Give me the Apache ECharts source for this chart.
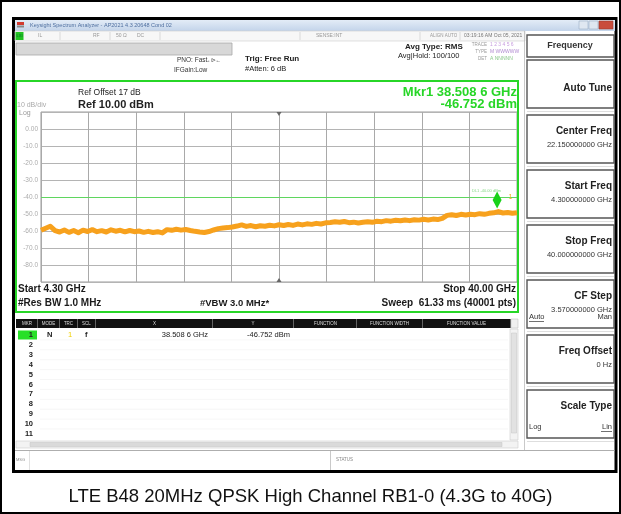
<!DOCTYPE html>
<html>
<head>
<meta charset="utf-8">
<script src="https://cdn.jsdelivr.net/npm/echarts@6/dist/echarts.min.js"></script>
<style>
  html, body { margin: 0; padding: 0; background: #fff; }
  #c { width: 621px; height: 514px; }
</style>
</head>
<body>
<div id="c"></div>
<script>
// Sweep settings
const sweepStartGHz = 4.3;
const sweepStopGHz = 40.0;
const centerFreqGHz = 22.15;

// Trace 1 (RMS average), dBm, evenly spaced across the sweep
const traceDbm = [
  -59.6, -58.4, -57.2, -59.8, -60.6, -59.4, -60.8, -59.7, -61.0, -59.5,
  -60.3, -59.2, -60.4, -59.8, -60.6, -59.3, -60.1, -59.6, -60.5, -59.7,
  -60.4, -60.0, -60.8, -60.2, -60.9, -60.4, -61.1, -59.2, -59.6, -59.0,
  -59.5, -59.1, -59.7, -60.2, -60.6, -60.9, -60.3, -59.4, -58.6, -58.2,
  -58.0, -57.6, -57.1, -56.4, -57.3, -56.8, -57.5, -56.9, -57.2, -56.6,
  -57.0, -56.3, -56.8, -56.2, -56.7, -55.9, -56.4, -55.8, -56.1, -55.5,
  -55.9, -55.2, -55.0, -54.6, -54.9, -54.4, -55.1, -54.8, -55.3, -54.9,
  -54.6, -54.9, -54.3, -54.5, -53.9, -54.2, -53.7, -54.0, -53.5, -53.9,
  -53.4, -53.6, -53.1, -53.5, -53.0, -53.3, -52.6, -50.8, -50.4, -50.9,
  -50.2, -50.6, -50.1, -50.4, -49.8, -50.2, -49.6, -49.3, -48.6, -49.4,
  -49.1, -49.6, -49.3
];

// Amplitude scale
const refLevelDbm = 10;
const bottomLevelDbm = -90;
const dbPerDiv = 10;
const displayLineDbm = -40;

// Marker 1
const markerFreqGHz = 38.5086;
const markerDbm = -46.752;

// Marker table rows
const tableRows = ['1','2','3','4','5','6','7','8','9','10','11'];

// Softkey menu
const softkeys = [
  { label: 'Auto Tune', value: '' },
  { label: 'Center Freq', value: '22.150000000 GHz' },
  { label: 'Start Freq', value: '4.300000000 GHz' },
  { label: 'Stop Freq', value: '40.000000000 GHz' },
  { label: 'CF Step', value: '3.570000000 GHz' },
  { label: 'Freq Offset', value: '0 Hz' },
  { label: 'Scale Type', value: '' }
];

const FONT = '"Liberation Sans", Arial, sans-serif';
const GREEN = '#27d627';

function T(x, y, text, size, o) {
  o = o || {};
  return {
    type: 'text', x: x, y: y, silent: true, z: o.z || 5,
    style: {
      text: text, fontSize: size, fontFamily: FONT,
      fontWeight: o.bold ? 'bold' : 'normal',
      fill: o.color || '#1a1a1a',
      align: o.align || 'left', verticalAlign: 'middle'
    }
  };
}
function R(x, y, w, h, fill, stroke, lw, z) {
  return {
    type: 'rect', silent: true, z: z || 1,
    shape: { x: x, y: y, width: w, height: h },
    style: { fill: fill || 'none', stroke: stroke || 'none', lineWidth: lw || 0 }
  };
}
function L(x1, y1, x2, y2, color, lw, z) {
  return {
    type: 'line', silent: true, z: z || 2,
    shape: { x1: x1, y1: y1, x2: x2, y2: y2 },
    style: { stroke: color, lineWidth: lw || 1 }
  };
}

const g = [];
// outer page frame and instrument window frame
g.push(R(1, 1, 619, 512, 'none', '#000', 2));
g.push(R(13.5, 18.5, 602.5, 453, 'none', '#000', 3));

// title bar
g.push({ type: 'rect', silent: true, z: 1, shape: { x: 15, y: 20, width: 600, height: 11 },
  style: { fill: new echarts.graphic.LinearGradient(0, 0, 0, 1, [
    { offset: 0, color: '#e3ecf7' }, { offset: 1, color: '#c3d4ea' }]) } });
g.push(R(17, 22, 7, 3, '#d23b30'));
g.push(R(17, 25.5, 7, 2, '#888'));
g.push(T(30, 25.5, 'Keysight Spectrum Analyzer - AP2021 4.3 20648 Cond 02', 5.5, { color: '#4f6f9f' }));
g.push(R(579, 21, 9, 8, '#dfe7f1', '#9aaec8', 0.6));
g.push(R(589, 21, 9, 8, '#dfe7f1', '#9aaec8', 0.6));
g.push(R(599, 21, 14, 8, '#c94c3c', '#9a3a2e', 0.6));

// instrument status row
g.push(R(15, 31, 510, 10, '#f7f7f7', '#cfcfcf', 0.6));
g.push(R(15.5, 32, 8, 8, '#22c322'));
g.push(T(16.5, 36, 'LXI', 4, { color: '#063' }));
[60, 110, 160, 300, 420, 460].forEach(function (x) { g.push(L(x, 32, x, 40, '#c8c8c8', 0.6)); });
g.push(T(38, 36, 'IL', 5, { color: '#999' }));
g.push(T(93, 36, 'RF', 5, { color: '#999' }));
g.push(T(116, 36, '50 Ω', 5, { color: '#999' }));
g.push(T(137, 36, 'DC', 5, { color: '#999' }));
g.push(T(316, 36, 'SENSE:INT', 5, { color: '#999' }));
g.push(T(430, 36, 'ALIGN AUTO', 4.5, { color: '#999' }));
g.push(T(464, 36, '03:19:16 AM Oct 05, 2021', 5, { color: '#777' }));

// entry field
g.push(R(16, 43, 216, 12, '#d8d8d8', '#a8a8a8', 0.8));

// acquisition settings
g.push(T(177, 60, 'PNO: Fast', 6.5, { color: '#333' }));
g.push(T(205, 60, '→⊳←', 5.5, { color: '#333' }));
g.push(T(174, 70, 'IFGain:Low', 6.5, { color: '#333' }));
g.push(T(245, 59, 'Trig: Free Run', 8, { bold: true, color: '#222' }));
g.push(T(245, 69, '#Atten: 6 dB', 7.5, { color: '#222' }));
g.push(T(405, 47, 'Avg Type: RMS', 8, { bold: true, color: '#222' }));
g.push(T(398, 56, 'Avg|Hold: 100/100', 7.5, { color: '#222' }));
g.push(T(487, 45, 'TRACE', 4.5, { color: '#999', align: 'right' }));
g.push(T(490, 45, '1 2 3 4 5 6', 5, { color: '#c9a0e0' }));
g.push(T(487, 52, 'TYPE', 4.5, { color: '#999', align: 'right' }));
g.push(T(490, 52, 'M WWWWW', 5, { color: '#b08ad0' }));
g.push(T(487, 59, 'DET', 4.5, { color: '#999', align: 'right' }));
g.push(T(490, 59, 'A NNNNN', 5, { color: '#8cc88c' }));

// display frame
g.push(R(16, 81, 502, 231, 'none', GREEN, 2, 3));
g.push(T(78, 93, 'Ref Offset 17 dB', 8.5, { color: '#222' }));
g.push(T(78, 105, 'Ref 10.00 dBm', 11, { bold: true, color: '#222' }));
g.push(T(17, 105, '10 dB/div', 7, { color: '#aaa' }));
g.push(T(19, 113, 'Log', 7, { color: '#999' }));
g.push(T(517, 92, 'Mkr1 38.508 6 GHz', 13, { bold: true, color: GREEN, align: 'right' }));
g.push(T(517, 104, '-46.752 dBm', 13, { bold: true, color: GREEN, align: 'right' }));
g.push(T(18, 289, 'Start 4.30 GHz', 10, { bold: true }));
g.push(T(18, 303, '#Res BW 1.0 MHz', 10, { bold: true }));
g.push(T(200, 303, '#VBW 3.0 MHz*', 9.5, { bold: true }));
g.push(T(516, 289, 'Stop 40.00 GHz', 10, { bold: true, align: 'right' }));
g.push(T(516, 303, 'Sweep  61.33 ms (40001 pts)', 10, { bold: true, align: 'right' }));
g.push(T(472, 191, 'DL1 -40.00 dBm', 4, { color: '#8ad88a' }));

// marker table
const hdr = [
  ['MKR', 17, 37], ['MODE', 38, 59], ['TRC', 60, 77], ['SCL', 78, 95],
  ['X', 97, 212], ['Y', 213, 293], ['FUNCTION', 295, 356],
  ['FUNCTION WIDTH', 357, 422], ['FUNCTION VALUE', 423, 510]
];
g.push(R(16, 319, 495, 9, '#111'));
hdr.forEach(function (h) {
  g.push(L(h[2] + 0.5, 319, h[2] + 0.5, 328, '#777', 0.8, 3));
  g.push(T((h[1] + h[2]) / 2, 323.5, h[0], 4.5, { color: '#ddd', align: 'center' }));
});
tableRows.forEach(function (r, i) {
  const y = 335 + i * 9.9;
  if (i > 0) g.push(L(40, y - 5, 508, y - 5, '#f0f0f0', 0.6));
  g.push(T(33, y, r, 7.5, { bold: true, color: '#222', align: 'right' }));
});
g.push(R(18, 330.5, 19, 9, '#28e028', null, 0, 2));
g.push(T(47, 335, 'N', 7.5, { bold: true }));
g.push(T(68, 335, '1', 7.5, { color: '#f0d000' }));
g.push(T(85, 335, 'f', 7.5, { bold: true }));
g.push(T(208, 335, '38.508 6 GHz', 7.5, { align: 'right' }));
g.push(T(290, 335, '-46.752 dBm', 7.5, { align: 'right' }));
// scrollbars
g.push(R(511, 319, 7, 9, '#f0f0f0', '#bbb', 0.5));
g.push(R(510, 329, 8, 111, '#f3f3f3', '#ccc', 0.6));
g.push(R(511.5, 333, 5, 100, '#e2e2e2', '#c4c4c4', 0.5));
g.push(R(16, 441, 502, 7, '#f3f3f3', '#ccc', 0.6));
g.push(R(30, 442.5, 472, 4, '#dadada', '#c4c4c4', 0.5));
// message/status bar
g.push(L(15, 450.5, 615, 450.5, '#999', 0.8));
g.push(L(330.5, 451, 330.5, 470, '#bbb', 0.8));
g.push(L(29.5, 451, 29.5, 470, '#ccc', 0.6));
g.push(T(16, 460, 'MSG', 4, { color: '#888' }));
g.push(T(336, 460, 'STATUS', 4.5, { color: '#888' }));

// softkey panel
g.push(L(524.5, 31, 524.5, 450, '#bbb', 0.8));
g.push(R(527, 35, 87, 22, '#fff', '#555', 1.4));
g.push(T(570, 46, 'Frequency', 9, { bold: true, color: '#333', align: 'center' }));
softkeys.forEach(function (k, i) {
  const top = 60 + i * 55;
  g.push(R(527, top, 87, 48, '#fff', '#555', 1.4));
  g.push(L(527, top + 51.5, 614, top + 51.5, '#d6d6d6', 0.8));
  if (i === 0) {
    g.push(T(612, top + 28, k.label, 10, { bold: true, color: '#222', align: 'right' }));
  } else {
    g.push(T(612, top + 16, k.label, 10, { bold: true, color: '#222', align: 'right' }));
    if (k.value) g.push(T(612, top + 30, k.value, 7.5, { color: '#333', align: 'right' }));
  }
});
g.push(T(529, 317, 'Auto', 7.5, { color: '#333' }));
g.push(L(529, 321.5, 544, 321.5, '#333', 0.7));
g.push(T(612, 317, 'Man', 7.5, { color: '#333', align: 'right' }));
g.push(T(529, 427, 'Log', 7.5, { color: '#333' }));
g.push(T(612, 427, 'Lin', 7.5, { color: '#333', align: 'right' }));
g.push(L(601, 431.5, 612, 431.5, '#333', 0.7));

// caption
g.push(T(310.5, 497, 'LTE B48 20MHz QPSK High Channel RB1-0 (4.3G to 40G)', 18.5, { color: '#111', align: 'center' }));

// trace samples spread evenly over the sweep span
const step = (sweepStopGHz - sweepStartGHz) / (traceDbm.length - 1);
const traceData = traceDbm.map(function (v, i) { return [sweepStartGHz + i * step, v]; });

const chart = echarts.init(document.getElementById('c'), null, { renderer: 'canvas' });
chart.setOption({
  backgroundColor: '#fff',
  animation: false,
  graphic: { elements: g },
  grid: { left: 41, top: 112, width: 476, height: 170, show: true, borderColor: '#9a9a9a', borderWidth: 1, backgroundColor: '#fff' },
  xAxis: [
    { type: 'value', min: sweepStartGHz, max: sweepStopGHz,
      axisLine: { show: false }, axisTick: { show: false }, axisLabel: { show: false }, splitLine: { show: false } },
    { type: 'value', min: 0, max: 10, interval: 1, position: 'bottom',
      axisLine: { show: false }, axisTick: { show: false }, axisLabel: { show: false },
      splitLine: { show: true, lineStyle: { color: '#a9a9a9', width: 1 } } }
  ],
  yAxis: {
    type: 'value', min: bottomLevelDbm, max: refLevelDbm, interval: dbPerDiv,
    axisLine: { show: false }, axisTick: { show: false },
    axisLabel: {
      margin: 3, color: '#acacac', fontSize: 6.5, fontFamily: FONT,
      formatter: function (v) {
        if (v === refLevelDbm || v === bottomLevelDbm) return '';
        return v === 0 ? '0.00' : v.toFixed(1);
      }
    },
    splitLine: { show: true, lineStyle: { color: '#b4b4b4', width: 1 } }
  },
  series: [{
    type: 'line', xAxisIndex: 0, data: traceData,
    showSymbol: false, silent: true,
    lineStyle: { color: '#f7a11d', width: 5, join: 'round' },
    markLine: {
      silent: true, symbol: 'none', label: { show: false },
      lineStyle: { color: '#5fd65f', width: 1, type: 'solid' },
      data: [{ yAxis: displayLineDbm }]
    },
    markPoint: {
      silent: true,
      data: [
        { coord: [markerFreqGHz, markerDbm], symbol: 'diamond', symbolSize: [9, 17], symbolOffset: [0, '-50%'],
          itemStyle: { color: '#19d219' },
          label: { show: true, formatter: '1', position: 'right', offset: [2, -3], color: '#f0b020', fontSize: 7, fontFamily: FONT } },
        { coord: [centerFreqGHz, refLevelDbm], symbol: 'triangle', symbolRotate: 180, symbolSize: [5, 4], symbolOffset: [0, 2],
          itemStyle: { color: '#666' }, label: { show: false } },
        { coord: [centerFreqGHz, bottomLevelDbm], symbol: 'triangle', symbolSize: [5, 4], symbolOffset: [0, -2],
          itemStyle: { color: '#666' }, label: { show: false } }
      ]
    }
  }]
});
</script>
</body>
</html>
